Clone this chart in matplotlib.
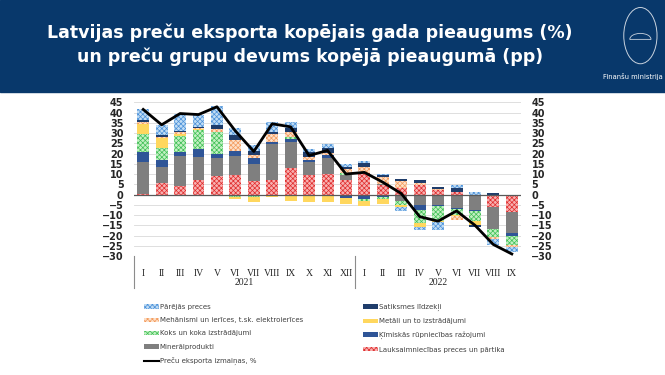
import matplotlib.pyplot as plt
import numpy as np
from matplotlib.patches import Patch, Rectangle, Ellipse, Wedge
from matplotlib.lines import Line2D
import matplotlib.transforms as mtransforms

plt.rcParams['hatch.linewidth'] = 0.5

months = ['I', 'II', 'III', 'IV', 'V', 'VI', 'VII', 'VIII', 'IX', 'X', 'XI', 'XII',
          'I', 'II', 'III', 'IV', 'V', 'VI', 'VII', 'VIII', 'IX']
years = ['2021', '2022']
year_len = [12, 9]

# contributions, pp
lauks = [0.3, 5.5, 4.2, 7.0, 8.9, 9.4, 6.8, 7.2, 12.7, 9.3, 9.9, 7.2,
         10.3, 4.5, 3.2, 4.7, 2.0, 1.2, 0.0, -6.0, -8.3]
mineral = [15.7, 8.0, 14.7, 11.2, 9.0, 9.5, 8.2, 17.2, 13.0, 6.5, 7.8, 2.1,
           0.0, 0.5, -3.3, -5.2, -5.2, -6.8, -7.5, -11.0, -10.5]
kimiskas = [4.8, 3.1, 1.9, 3.8, 2.1, 2.4, 2.6, 1.1, 1.6, 1.1, 1.5, -1.5,
            -2.0, -1.0, 0.0, -2.5, -0.3, -0.5, -0.6, 0.0, -1.3]
koks = [8.5, 6.3, 7.7, 9.5, 10.6, -1.0, -1.0, 0.0, 0.8, -0.3, 0.0, 1.1,
        -1.0, -1.0, -1.6, -6.4, -7.3, -2.5, -4.9, -3.6, -4.3]
metali = [5.2, 4.9, 0.8, 0.3, -0.5, -1.0, -2.7, -1.0, -3.2, -3.4, -3.5, -3.2,
          -2.5, -2.5, -1.1, -1.7, -0.8, -0.7, -2.0, 0.0, 0.0]
mehanismi = [0.7, 0.3, 1.1, 0.7, 1.6, 5.5, 1.6, 3.9, 2.4, 1.6, 1.0, 2.0,
             3.3, 3.5, 3.5, 0.7, 0.9, -2.0, 0.0, -0.9, -1.4]
satiksme = [1.3, 0.7, 0.5, 0.3, 1.6, 2.0, 1.9, 1.0, 1.8, 2.0, 2.6, 0.8,
            1.8, 1.2, 1.1, 1.6, 0.8, 2.0, -0.8, 0.5, 0.0]
parejas = [5.3, 5.0, 8.3, 6.2, 9.4, 3.7, 2.9, 4.9, 3.2, 1.6, 2.0, 1.6,
           1.0, 0.3, -2.2, -1.6, -3.7, 1.3, 1.0, -3.0, -2.3]
eksports = [41.5, 34, 39.5, 39, 42.8, 31, 21, 34.5, 33, 19, 21.5, 10,
            10.8, 6, 0.5, -10.8, -13, -8, -15, -24.4, -29]

# (label, values, face, hatch colour or None)
series = [
    ('Lauksaimniecības preces un pārtika', lauks, '#f7b0b0', '#e02c2c'),
    ('Minerālprodukti', mineral, '#7f7f7f', None),
    ('Ķīmiskās rūpniecības ražojumi', kimiskas, '#2f5597', None),
    ('Koks un koka izstrādājumi', koks, '#c2f0c2', '#3fbf55'),
    ('Metāli un to izstrādājumi', metali, '#ffd75e', None),
    ('Mehānismi un ierīces, t.sk. elektroierīces', mehanismi, '#fde0c8', '#f39a5c'),
    ('Satiksmes līdzekļi', satiksme, '#1f3d6b', None),
    ('Pārējās preces', parejas, '#c0dcf4', '#4a90d9'),
]

fig = plt.figure(figsize=(6.65, 3.75), dpi=100)

# header band
fig.patches.append(Rectangle((0, 0.755), 1, 0.245, transform=fig.transFigure,
                             color='#08386b', zorder=0))
fig.text(0.466, 0.912, 'Latvijas preču eksporta kopējais gada pieaugums (%)',
         color='white', fontsize=12.5, fontweight='bold', ha='center', va='center')
fig.text(0.466, 0.848, 'un preču grupu devums kopējā pieaugumā (pp)',
         color='white', fontsize=12.5, fontweight='bold', ha='center', va='center')
fig.text(0.907, 0.797, 'Finanšu ministrija', color='white', fontsize=4.9,
         ha='left', va='center')
# simple outline of the crest
fig.patches.append(Ellipse((0.963, 0.905), 0.05, 0.15, transform=fig.transFigure,
                           fill=False, edgecolor='#c8d2de', linewidth=0.7))
fig.patches.append(Wedge((0.963, 0.895), 0.016, 0, 180, transform=fig.transFigure,
                         fill=False, edgecolor='#c8d2de', linewidth=0.6))

ax = fig.add_axes([0.2015, 0.3173, 0.582, 0.41])
x = np.arange(len(months))
width = 0.65
pos_bottom = np.zeros(len(months))
neg_bottom = np.zeros(len(months))
handles = {}
for label, vals, face, hcol in series:
    vals = np.array(vals)
    bottom = np.where(vals >= 0, pos_bottom, neg_bottom)
    if hcol:
        ax.bar(x, vals, width, bottom=bottom, color=face, edgecolor=hcol,
               hatch='xxxxxxx', linewidth=0, zorder=2)
        handles[label] = Patch(facecolor=face, edgecolor=hcol, hatch='xxxxxxx', linewidth=0)
    else:
        ax.bar(x, vals, width, bottom=bottom, color=face, linewidth=0, zorder=2)
        handles[label] = Patch(facecolor=face, linewidth=0)
    pos_bottom += np.where(vals >= 0, vals, 0)
    neg_bottom += np.where(vals < 0, vals, 0)

ax.plot(x, eksports, color='black', linewidth=2, zorder=4)
ax.axhline(0, color='#595959', linewidth=0.9, zorder=3)

ax.set_xlim(-0.5, len(months) - 0.5)
ax.set_ylim(-30, 45)
ax.set_yticks(np.arange(-30, 46, 5))
ax.yaxis.grid(True, color='#d9d9d9', linewidth=0.6, zorder=0)
ax.set_axisbelow(True)
for s in ax.spines.values():
    s.set_visible(False)
ax.tick_params(axis='y', left=False, right=False, labelright=True, labelsize=7,
               labelcolor='#262626', pad=4)
for t in ax.yaxis.get_major_ticks():
    t.label1.set_fontweight('bold')
    t.label2.set_fontweight('bold')
ax.set_xticks(x)
ax.set_xticklabels(months, fontsize=7, family='Liberation Serif', color='#262626')
ax.tick_params(axis='x', bottom=False, pad=6)

# year groups on the category axis
trans = mtransforms.blended_transform_factory(ax.transData, ax.transAxes)
start = 0
for yr, n in zip(years, year_len):
    ax.plot([start - 0.5, start - 0.5], [0, -0.21], color='#8c8c8c', linewidth=0.8,
            transform=trans, clip_on=False)
    ax.text(start + (n - 1) / 2, -0.175, yr, transform=trans, ha='center', va='center',
            fontsize=7, family='Liberation Serif', color='#262626')
    start += n

line_handle = Line2D([], [], color='black', linewidth=1.5)
left_items = ['Pārējās preces', 'Mehānismi un ierīces, t.sk. elektroierīces',
              'Koks un koka izstrādājumi', 'Minerālprodukti']
right_items = ['Satiksmes līdzekļi', 'Metāli un to izstrādājumi',
               'Ķīmiskās rūpniecības ražojumi', 'Lauksaimniecības preces un pārtika']
leg_kw = dict(frameon=False, fontsize=5, handlelength=2.2, handleheight=0.6,
              handletextpad=0.1, labelspacing=1.05, borderaxespad=0,
              labelcolor='#404040')
fig.legend([handles[k] for k in left_items] + [line_handle],
           left_items + ['Preču eksporta izmaiņas, %'],
           loc='upper left', bbox_to_anchor=(0.212, 0.197), **leg_kw)
fig.legend([handles[k] for k in right_items], right_items,
           loc='upper left', bbox_to_anchor=(0.542, 0.197), **leg_kw)

fig.savefig('out.png', dpi=100)
